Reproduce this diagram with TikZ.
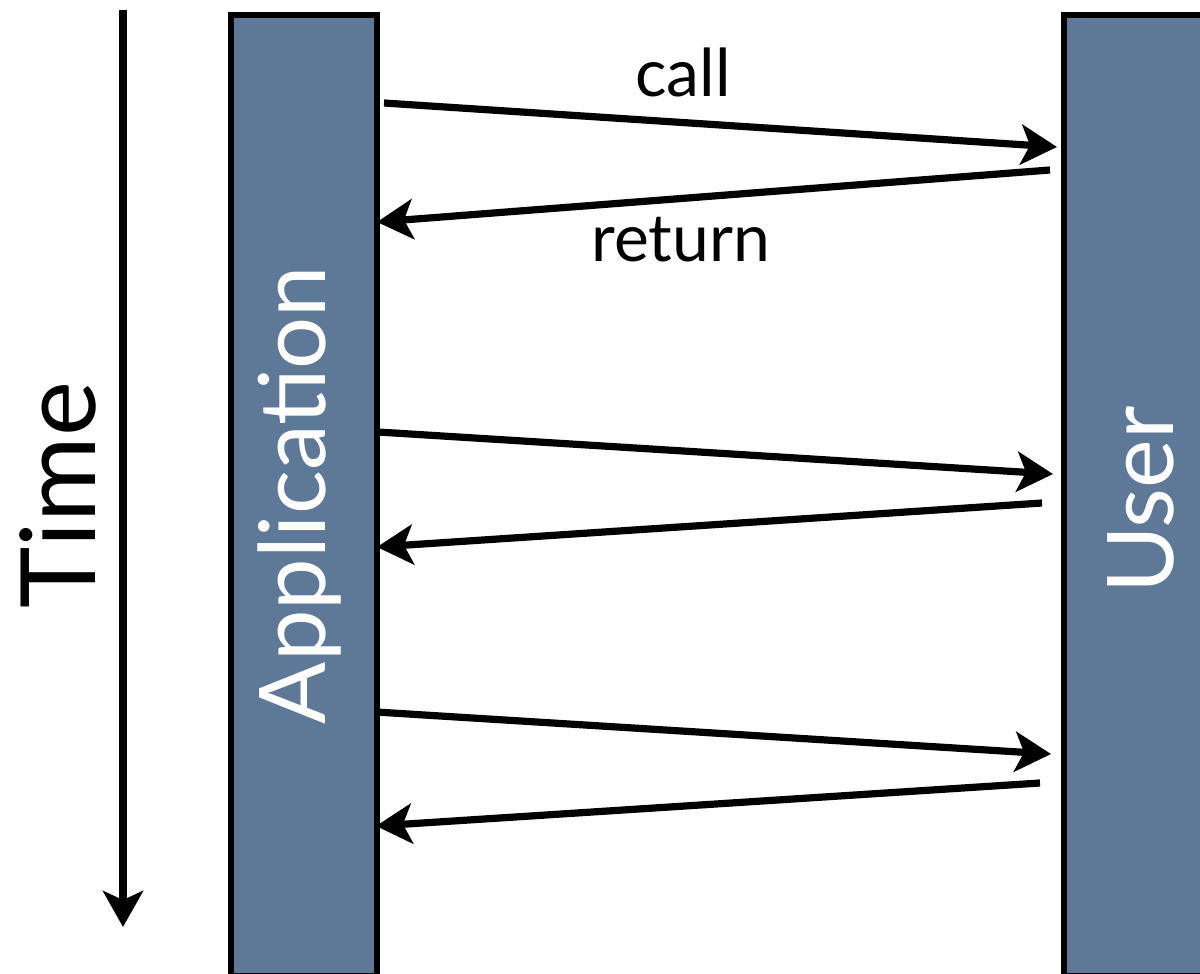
\documentclass[tikz,border=0pt]{standalone}
\usepackage{fontspec}
\setmainfont{Lato}
\usetikzlibrary{arrows.meta}
\definecolor{barblue}{RGB}{94,121,152}
\tikzset{
  lane/.style={draw=black, line width=3pt, fill=barblue, inner sep=0pt},
  lanetext/.style={text=white, font=\fontsize{46}{46}\selectfont, rotate=90},
  bigtip/.style={-{Stealth[length=18pt, width=20pt, inset=4.5pt]}},
  msg/.style={line width=3.6pt, bigtip},
  msglabel/.style={font=\fontsize{33}{33}\selectfont},
}
\begin{document}
\begin{tikzpicture}[x=0.5pt, y=0.5pt]
  % canvas
  \path[fill=white, use as bounding box] (0,0) rectangle (1200,-974);
  \begin{scope}
    \clip (0,0) rectangle (1200,-974);
    % lifelines
    \node (app) [lane, minimum width=73pt, minimum height=480pt, anchor=north west] at (227.5,-12.5) {};
    \node (usr) [lane, minimum width=90pt, minimum height=480pt, anchor=north west] at (1060.5,-12.5) {};
  \end{scope}
  \node (applbl) [lanetext] at (300,-495) {Application};
  \node (usrlbl) [lanetext] at (1141,-500) {User};

  % time axis
  \coordinate (t0) at (123,-10);
  \coordinate (t1) at (123,-927);
  \draw[line width=3.8pt, bigtip] (t0) -- (t1);
  \node (timelbl) [rotate=90, font=\fontsize{52}{52}\selectfont] at (58,-495) {Time};

  % message end points
  \coordinate (c1s) at (384,-103);  \coordinate (c1e) at (1057,-147);
  \coordinate (r1s) at (1050,-170); \coordinate (r1e) at (377,-222);
  \coordinate (c2s) at (378,-432);  \coordinate (c2e) at (1053,-474);
  \coordinate (r2s) at (1042,-503); \coordinate (r2e) at (377,-547);
  \coordinate (c3s) at (376,-712);  \coordinate (c3e) at (1051,-754);
  \coordinate (r3s) at (1040,-783); \coordinate (r3e) at (376,-826);

  \draw[msg] (c1s) -- (c1e);
  \draw[msg] (r1s) -- (r1e);
  \draw[msg] (c2s) -- (c2e);
  \draw[msg] (r2s) -- (r2e);
  \draw[msg] (c3s) -- (c3e);
  \draw[msg] (r3s) -- (r3e);

  \node (calllbl) [msglabel] at (683,-72) {call};
  \node (retlbl) [msglabel] at (681,-240) {return};
\end{tikzpicture}
\end{document}
